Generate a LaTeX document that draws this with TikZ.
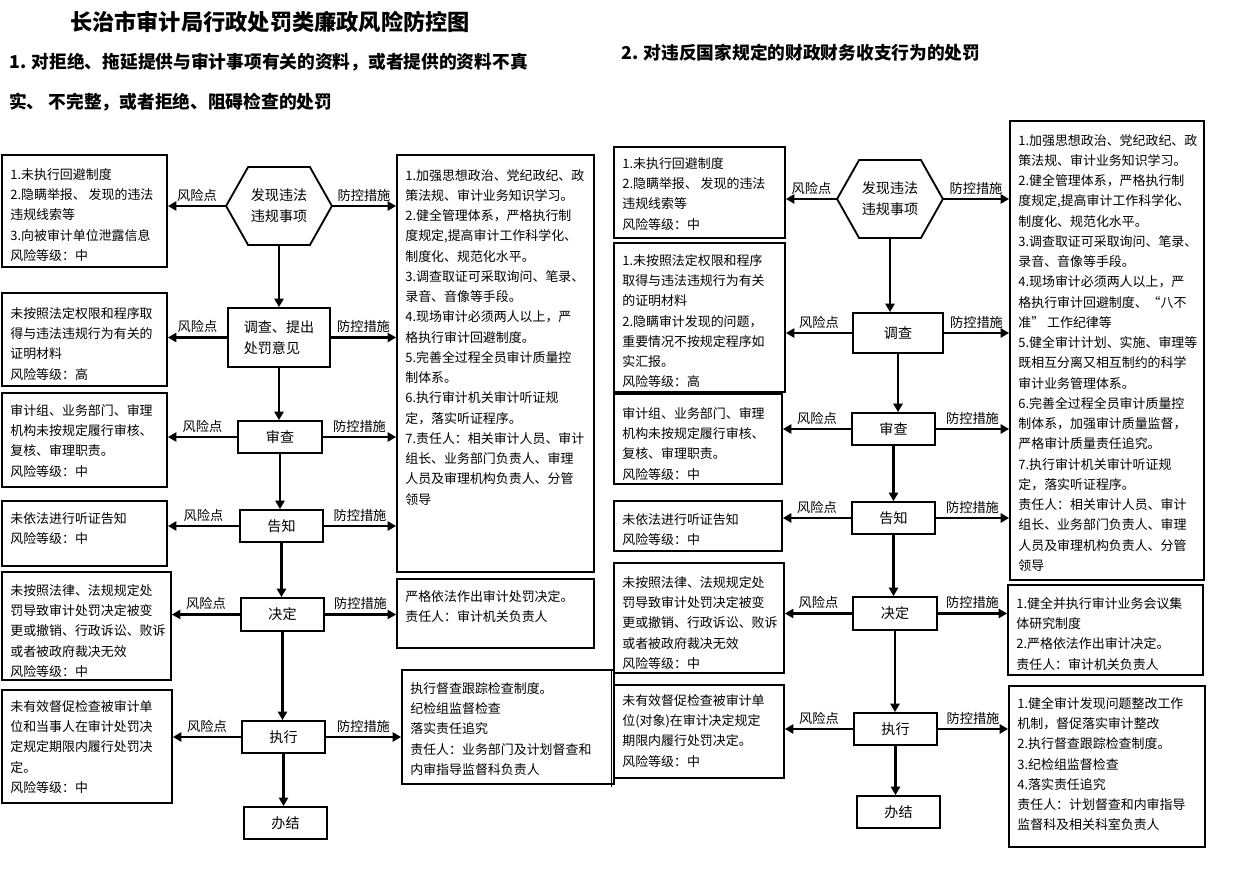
\documentclass[tikz,border=0pt]{standalone}
\usepackage{fontspec}
\setmainfont{Noto Sans CJK SC}
\usetikzlibrary{arrows.meta, positioning, fit}

\newcommand{\boxfont}{\fontsize{9.2pt}{14.4pt}\selectfont}
\newcommand{\tbox}[7][12]{%
  \node[box, fit={(#3,#4) (#5,#6)}] (#2) {};
  \node[txt] (#2-t) at ([shift={(9,#1)}]#2.north west) {#7};
}

\begin{document}
\begin{tikzpicture}[x=0.025cm, y=-0.025cm, >={Triangle[length=6pt, width=6.5pt]},
    box/.style={draw, line width=1.3pt, inner sep=0pt},
    txt/.style={anchor=north west, align=left, inner sep=0pt, font=\boxfont},
    stage/.style={draw, line width=1.3pt, inner sep=0pt, align=left, font=\fontsize{10pt}{15pt}\selectfont},
    arr/.style={->, line width=2pt},
    lbl/.style={above, inner sep=2.5pt, font=\fontsize{9.4pt}{11pt}\selectfont},
    head/.style={anchor=west, inner sep=0pt, font=\fontsize{12.6pt}{14pt}\selectfont\bfseries}]

    \useasboundingbox (0,0) rectangle (1237,872);

    \node[font=\fontsize{15.8pt}{18pt}\selectfont\bfseries] (title) at (270,22) {长治市审计局行政处罚类廉政风险防控图};
    \node[head] (secA1) at (9,62) {1. 对拒绝、拖延提供与审计事项有关的资料，或者提供的资料不真};
    \node[head] (secA2) at (9,102) {实、 不完整，或者拒绝、阻碍检查的处罚};
    \node[head] (secB) at (621,53) {2. 对违反国家规定的财政财务收支行为的处罚};

    % left flow
    \node[stage, draw=none, minimum width=2.6cm, minimum height=1.9cm] (hexA) at (279,206) {发现违法\\违规事项};
    \node[stage, minimum width=2.55cm, minimum height=1.475cm] (dcA) at (279,337.5) {调查、提出\\处罚意见};
    \node[stage, minimum width=2.1cm, minimum height=0.8cm] (scA) at (280,437) {审查};
    \node[stage, minimum width=2.075cm, minimum height=0.8cm] (gzA) at (281.5,526) {告知};
    \node[stage, minimum width=2.075cm, minimum height=0.825cm] (jdA) at (282.5,614.5) {决定};
    \node[stage, minimum width=2.075cm, minimum height=0.8cm] (zxA) at (283.5,737) {执行};
    \node[stage, minimum width=2.075cm, minimum height=0.8cm] (bjA) at (285.5,823) {办结};

    \tbox[14]{riskA1}{2}{155}{167}{267}{1.未执行回避制度\\2.隐瞒举报、 发现的违法\\违规线索等\\3.向被审计单位泄露信息\\风险等级：中}
    \tbox[15]{riskA2}{2}{293}{167}{386}{未按照法定权限和程序取\\得与违法违规行为有关的\\证明材料\\风险等级：高}
    \tbox{riskA3}{2}{393}{167}{487}{审计组、业务部门、审理\\机构未按规定履行审核、\\复核、审理职责。\\风险等级：中}
    \tbox{riskA4}{2}{501}{167}{566}{未依法进行听证告知\\风险等级：中}
    \tbox[13]{riskA5}{2}{572}{171}{680}{未按照法律、法规规定处\\罚导致审计处罚决定被变\\更或撤销、行政诉讼、败诉\\或者被政府裁决无效\\风险等级：中}
    \tbox[11]{riskA6}{2}{690}{172}{803}{未有效督促检查被审计单\\位和当事人在审计处罚决\\定规定期限内履行处罚决\\定。\\风险等级：中}

    \tbox[15]{ctrlA1}{397}{155}{594}{572}{1.加强思想政治、党纪政纪、政\\策法规、审计业务知识学习。\\2.健全管理体系，严格执行制\\度规定,提高审计工作科学化、\\制度化、规范化水平。\\3.调查取证可采取询问、笔录、\\录音、音像等手段。\\4.现场审计必须两人以上，严\\格执行审计回避制度。\\5.完善全过程全员审计质量控\\制体系。\\6.执行审计机关审计听证规\\定，落实听证程序。\\7.责任人：相关审计人员、审计\\组长、业务部门负责人、审理\\人员及审理机构负责人、分管\\领导}
    \tbox{ctrlA2}{397}{579}{594}{648}{严格依法作出审计处罚决定。\\责任人：审计机关负责人}
    \tbox[13]{ctrlA3}{402}{670}{614}{784}{执行督查跟踪检查制度。\\纪检组监督检查\\落实责任追究\\责任人：业务部门及计划督查和\\内审指导监督科负责人}

    % right flow
    \node[stage, draw=none, minimum width=2.6cm, minimum height=1.9cm] (hexB) at (890,199) {发现违法\\违规事项};
    \node[stage, minimum width=2.25cm, minimum height=1.0cm] (dcB) at (898,333) {调查};
    \node[stage, minimum width=2.075cm, minimum height=0.8cm] (scB) at (893.5,429) {审查};
    \node[stage, minimum width=2.075cm, minimum height=0.8cm] (gzB) at (893.5,518) {告知};
    \node[stage, minimum width=2.1cm, minimum height=0.825cm] (jdB) at (895,613.5) {决定};
    \node[stage, minimum width=2.075cm, minimum height=0.8cm] (zxB) at (895.5,729) {执行};
    \node[stage, minimum width=2.075cm, minimum height=0.8cm] (bjB) at (898.5,812) {办结};

    \tbox[11]{riskB1}{614}{147}{785}{238}{1.未执行回避制度\\2.隐瞒举报、 发现的违法\\违规线索等\\风险等级：中}
    \tbox{riskB2}{614}{243}{785}{392}{1.未按照法定权限和程序\\取得与违法违规行为有关\\的证明材料\\2.隐瞒审计发现的问题，\\重要情况不按规定程序如\\实汇报。\\风险等级：高}
    \tbox[14]{riskB3}{614}{394}{782}{484}{审计组、业务部门、审理\\机构未按规定履行审核、\\复核、审理职责。\\风险等级：中}
    \tbox[13]{riskB4}{614}{501}{782}{551}{未依法进行听证告知\\风险等级：中}
    \tbox[14]{riskB5}{614}{563}{784}{673}{未按照法律、法规规定处\\罚导致审计处罚决定被变\\更或撤销、行政诉讼、败诉\\或者被政府裁决无效\\风险等级：中}
    \tbox[10]{riskB6}{614}{685}{784}{778}{未有效督促检查被审计单\\位(对象)在审计决定规定\\期限内履行处罚决定。\\风险等级：中}

    \tbox[14]{ctrlB1}{1010}{121}{1204}{580}{1.加强思想政治、党纪政纪、政\\策法规、审计业务知识学习。\\2.健全管理体系，严格执行制\\度规定,提高审计工作科学化、\\制度化、规范化水平。\\3.调查取证可采取询问、笔录、\\录音、音像等手段。\\4.现场审计必须两人以上，严\\格执行审计回避制度、“八不\\准” 工作纪律等\\5.健全审计计划、实施、审理等\\既相互分离又相互制约的科学\\审计业务管理体系。\\6.完善全过程全员审计质量控\\制体系，加强审计质量监督，\\严格审计质量责任追究。\\7.执行审计机关审计听证规\\定，落实听证程序。\\责任人：相关审计人员、审计\\组长、业务部门负责人、审理\\人员及审理机构负责人、分管\\领导}
    \tbox[13]{ctrlB2}{1008}{585}{1203}{675}{1.健全并执行审计业务会议集\\体研究制度\\2.严格依法作出审计决定。\\责任人：审计机关负责人}
    \tbox{ctrlB3}{1009}{686}{1205}{847}{1.健全审计发现问题整改工作\\机制，督促落实审计整改\\2.执行督查跟踪检查制度。\\3.纪检组监督检查\\4.落实责任追究\\责任人：计划督查和内审指导\\监督科及相关科室负责人}

    \foreach \h in {hexA, hexB}
        \draw[line width=1.3pt] (\h.west) -- ([shift={(22,0)}]\h.north west) -- ([shift={(-22,0)}]\h.north east)
            -- (\h.east) -- ([shift={(-22,0)}]\h.south east) -- ([shift={(22,0)}]\h.south west) -- cycle;

    \foreach \a/\b in {hexA/dcA, dcA/scA, scA/gzA, gzA/jdA, jdA/zxA, zxA/bjA,
                       hexB/dcB, dcB/scB, scB/gzB, gzB/jdB, jdB/zxB, zxB/bjB}
        \draw[arr] (\a.south) -- (\a.south |- \b.north);

    \foreach \s/\r/\c in {hexA/riskA1/ctrlA1, dcA/riskA2/ctrlA1, scA/riskA3/ctrlA1, gzA/riskA4/ctrlA1,
                          jdA/riskA5/ctrlA2, zxA/riskA6/ctrlA3,
                          hexB/riskB1/ctrlB1, dcB/riskB2/ctrlB1, scB/riskB3/ctrlB1, gzB/riskB4/ctrlB1,
                          jdB/riskB5/ctrlB2, zxB/riskB6/ctrlB3} {
        \draw[arr] (\s.west) -- node[lbl] {风险点} (\s.west -| \r.east);
        \draw[arr] (\s.east) -- node[lbl] {防控措施} (\s.east -| \c.west);
    }

    \draw[line width=0.6pt] (611,670) -- (611,787);
\end{tikzpicture}
\end{document}
